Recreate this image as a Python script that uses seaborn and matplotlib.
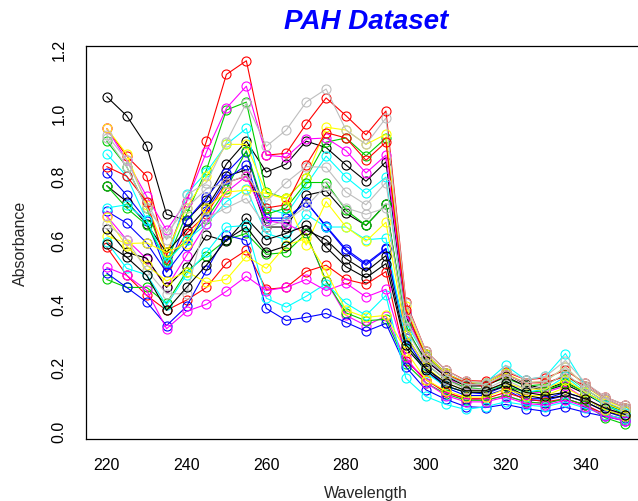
import numpy as np
import pandas as pd
import matplotlib
matplotlib.use("Agg")
import matplotlib.pyplot as plt
import seaborn as sns

wavelengths = list(range(220, 351, 5))

# 25 spectra (absorbance at 220..350 nm, step 5)
s01 = [1.05,0.99,0.895,0.68,0.661,0.725,0.838,0.91,0.813,0.838,0.91,0.89,0.835,0.784,0.845,
       0.36,0.24,0.18,0.15,0.15,0.18,0.145,0.13,0.152,0.12,0.085,0.063]
s02 = [0.95,0.863,0.80,0.55,0.72,0.91,1.12,1.163,0.866,0.872,0.964,1.046,0.99,0.93,1.005,
       0.405,0.25,0.19,0.157,0.155,0.185,0.16,0.165,0.19,0.148,0.105,0.08]
s03 = [0.91,0.83,0.70,0.53,0.68,0.82,1.008,1.033,0.75,0.73,0.794,0.907,0.92,0.864,0.92,
       0.37,0.235,0.175,0.145,0.145,0.165,0.14,0.145,0.175,0.13,0.09,0.06]
s04 = [0.81,0.74,0.66,0.50,0.66,0.734,0.81,0.876,0.668,0.668,0.718,0.643,0.57,0.525,0.573,
       0.30,0.20,0.14,0.12,0.115,0.14,0.10,0.10,0.12,0.10,0.065,0.045]
s05 = [0.87,0.80,0.661,0.52,0.743,0.813,0.90,0.95,0.70,0.68,0.772,0.863,0.797,0.746,0.797,
       0.34,0.23,0.17,0.15,0.15,0.205,0.16,0.17,0.242,0.14,0.10,0.07]
s06 = [0.95,0.85,0.737,0.63,0.72,0.876,1.014,1.083,0.866,0.86,0.917,0.92,0.88,0.81,0.866,
       0.37,0.22,0.17,0.13,0.125,0.15,0.12,0.12,0.14,0.10,0.07,0.05]
s07 = [0.95,0.87,0.71,0.56,0.70,0.80,0.90,0.90,0.746,0.73,0.794,0.954,0.945,0.90,0.932,
       0.39,0.24,0.18,0.15,0.15,0.18,0.15,0.155,0.20,0.14,0.095,0.07]
s08 = [0.93,0.85,0.72,0.60,0.74,0.78,0.907,1.03,0.894,0.945,1.033,1.074,0.945,0.90,0.983,
       0.40,0.25,0.19,0.155,0.15,0.19,0.16,0.17,0.22,0.15,0.105,0.08]
s09 = [0.77,0.72,0.65,0.56,0.63,0.70,0.80,0.82,0.64,0.64,0.74,0.754,0.683,0.645,0.712,
       0.32,0.22,0.17,0.14,0.14,0.17,0.14,0.125,0.145,0.115,0.08,0.06]
s10 = [0.83,0.80,0.72,0.52,0.62,0.68,0.78,0.80,0.70,0.71,0.835,0.937,0.92,0.85,0.907,
       0.38,0.23,0.175,0.15,0.14,0.175,0.15,0.15,0.17,0.14,0.10,0.072]
s11 = [0.77,0.70,0.646,0.535,0.60,0.665,0.76,0.88,0.68,0.70,0.78,0.78,0.693,0.645,0.712,
       0.33,0.21,0.16,0.135,0.13,0.14,0.12,0.125,0.15,0.12,0.08,0.05]
s12 = [0.69,0.652,0.59,0.498,0.58,0.69,0.79,0.835,0.66,0.66,0.72,0.64,0.565,0.52,0.57,
       0.29,0.19,0.135,0.11,0.11,0.13,0.095,0.095,0.11,0.09,0.06,0.04]
s13 = [0.70,0.71,0.661,0.53,0.598,0.65,0.72,0.76,0.62,0.60,0.68,0.64,0.64,0.60,0.605,
       0.28,0.18,0.14,0.12,0.12,0.15,0.12,0.13,0.17,0.12,0.08,0.055]
s14 = [0.675,0.60,0.54,0.45,0.55,0.65,0.75,0.80,0.66,0.65,0.62,0.47,0.362,0.33,0.36,
       0.22,0.16,0.12,0.10,0.095,0.11,0.09,0.085,0.10,0.08,0.05,0.035]
s15 = [0.613,0.588,0.59,0.56,0.588,0.70,0.75,0.756,0.746,0.728,0.583,0.72,0.64,0.595,0.655,
       0.30,0.20,0.15,0.125,0.125,0.15,0.13,0.13,0.16,0.12,0.085,0.06]
s16 = [0.92,0.83,0.70,0.62,0.70,0.76,0.778,0.803,0.72,0.78,0.83,0.828,0.75,0.71,0.78,
       0.35,0.23,0.175,0.145,0.145,0.175,0.15,0.155,0.20,0.14,0.10,0.072]
s17 = [0.635,0.56,0.542,0.45,0.513,0.614,0.595,0.668,0.60,0.62,0.645,0.577,0.515,0.48,0.525,
       0.26,0.19,0.14,0.12,0.12,0.14,0.11,0.10,0.11,0.09,0.06,0.045]
s18 = [0.577,0.488,0.425,0.378,0.41,0.45,0.526,0.567,0.444,0.45,0.50,0.52,0.475,0.46,0.50,
       0.22,0.16,0.12,0.10,0.10,0.12,0.10,0.09,0.10,0.08,0.05,0.035]
s19 = [0.475,0.45,0.45,0.40,0.50,0.55,0.60,0.62,0.554,0.56,0.62,0.47,0.37,0.345,0.35,
       0.21,0.15,0.115,0.095,0.095,0.11,0.09,0.085,0.10,0.08,0.04,0.019]
s20 = [0.495,0.45,0.404,0.33,0.39,0.504,0.614,0.598,0.384,0.346,0.356,0.368,0.34,0.312,0.337,
       0.20,0.128,0.098,0.075,0.072,0.082,0.069,0.06,0.073,0.057,0.044,0.03]
s21 = [0.593,0.51,0.49,0.394,0.49,0.56,0.64,0.645,0.416,0.388,0.422,0.462,0.40,0.362,0.425,
       0.164,0.107,0.082,0.066,0.075,0.09,0.08,0.075,0.09,0.07,0.05,0.035]
s22 = [0.513,0.488,0.441,0.32,0.375,0.397,0.438,0.485,0.44,0.45,0.475,0.44,0.463,0.42,0.444,
       0.23,0.15,0.11,0.09,0.09,0.105,0.085,0.08,0.095,0.075,0.045,0.03]
s23 = [0.67,0.58,0.52,0.47,0.50,0.466,0.475,0.548,0.51,0.583,0.604,0.50,0.378,0.356,0.362,
       0.25,0.16,0.125,0.105,0.105,0.13,0.11,0.11,0.135,0.10,0.065,0.045]
s24 = [0.65,0.60,0.504,0.43,0.43,0.668,0.70,0.73,0.64,0.66,0.705,0.77,0.70,0.68,0.70,
       0.32,0.21,0.16,0.13,0.13,0.16,0.13,0.14,0.18,0.13,0.09,0.065]
s25 = [0.588,0.545,0.488,0.378,0.45,0.52,0.60,0.64,0.56,0.58,0.63,0.60,0.54,0.50,0.55,
       0.27,0.195,0.15,0.125,0.125,0.15,0.12,0.11,0.12,0.10,0.07,0.05]

spectra = [s01, s02, s03, s04, s05, s06, s07, s08, s09, s10, s11, s12, s13,
           s14, s15, s16, s17, s18, s19, s20, s21, s22, s23, s24, s25]

r_palette = ["#000000", "#FF0000", "#00CD00", "#0000FF",
             "#00FFFF", "#FF00FF", "#FFFF00", "#BEBEBE"]
x_ticks = [220, 240, 260, 280, 300, 320, 340]
y_ticks = [0.0, 0.2, 0.4, 0.6, 0.8, 1.0, 1.2]

rows = []
for i, s in enumerate(spectra):
    for w, a in zip(wavelengths, s):
        rows.append({"Wavelength": w, "Absorbance": a, "sample": f"S{i+1}"})
df = pd.DataFrame(rows)
colors = [r_palette[i % 8] for i in range(len(spectra))]

sns.set_style("white")
plt.rcParams["font.family"] = ["Liberation Sans", "DejaVu Sans"]

fig = plt.figure(figsize=(6.38, 5.02), dpi=100)
W, H = 638, 502
left, right, top, bottom = 86, 646, 47.2, 440
ax = fig.add_axes([left / W, 1 - bottom / H, (right - left) / W, (bottom - top) / H])

sns.lineplot(data=df, x="Wavelength", y="Absorbance", hue="sample",
             palette=colors, marker="o", markersize=6.5, markerfacecolor="none",
             markeredgewidth=0.8, linewidth=0.8, errorbar=None, legend=False,
             ax=ax, sort=True)
for line in ax.lines:
    line.set_markeredgecolor(line.get_color())
    line.set_clip_on(False)

ax.set_xlim(214.8, 355.2)
ax.set_ylim(-0.0268, 1.2088)
ax.set_xticks(x_ticks)
ax.set_xticklabels([str(t) for t in x_ticks])
ax.set_yticks(y_ticks)
ax.set_yticklabels([f"{t:.1f}" for t in y_ticks])
ax.tick_params(axis="both", direction="out", length=6, width=0.8, colors="black",
               labelsize=11.5)
ax.tick_params(axis="x", pad=7)
ax.tick_params(axis="y", pad=8)
for lab in ax.get_yticklabels():
    lab.set_rotation(90)
    lab.set_va("center")
for sp in ax.spines.values():
    sp.set_color("black")
    sp.set_linewidth(0.9)
ax.set_xlabel("Wavelength", fontsize=11.5, labelpad=9)
ax.set_ylabel("Absorbance", fontsize=11.5, labelpad=17)
ax.set_title("PAH Dataset", fontsize=20, fontweight="bold", fontstyle="italic",
             color="#0000FF", pad=13)

fig.savefig("out.png", dpi=100)
